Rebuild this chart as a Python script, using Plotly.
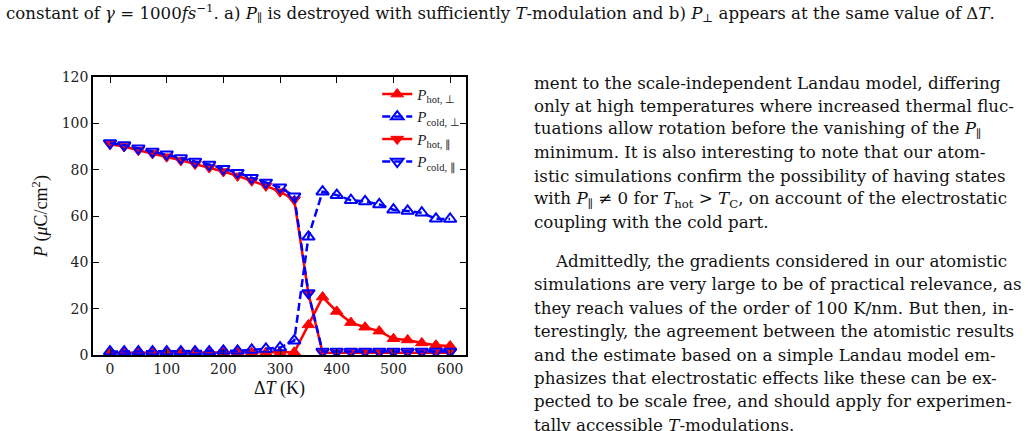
import plotly.graph_objects as go

# ---------------- data ----------------
dT = [0, 25, 50, 75, 100, 125, 150, 175, 200, 225, 250, 275, 300,
      325, 350, 375, 400, 425, 450, 475, 500, 525, 550, 575, 600]

P_hot_perp = [1.0, 1.0, 1.0, 1.0, 1.0, 1.0, 1.0, 1.0, 1.0, 1.0, 1.0, 1.0, 1.0,
              1.2, 13.0, 25.0, 18.8, 14.0, 12.0, 10.3, 7.0, 6.5, 5.2, 4.2, 3.9]
P_cold_perp = [1.5, 1.5, 1.5, 1.5, 1.5, 1.5, 1.5, 1.5, 1.8, 1.8, 2.2, 2.6, 3.2,
               6.2, 51.0, 70.5, 69.0, 66.8, 66.3, 65.0, 62.7, 62.2, 61.4, 58.8, 58.7]
P_hot_par = [91.0, 90.0, 88.4, 87.0, 85.6, 84.0, 82.4, 80.9, 79.2, 77.3, 75.2, 73.0, 70.5,
             67.0, 26.5, 1.0, 1.0, 1.0, 1.0, 1.0, 1.0, 1.0, 1.0, 1.0, 1.0]
P_cold_par = [91.5, 90.6, 89.2, 87.8, 86.7, 85.0, 83.5, 82.2, 80.4, 78.7, 76.5, 74.5, 72.4,
              68.5, 26.8, 1.5, 1.5, 1.5, 1.5, 1.5, 1.5, 1.5, 1.5, 1.5, 1.5]

x_ticks = [0, 100, 200, 300, 400, 500, 600]
y_ticks = [0, 20, 40, 60, 80, 100, 120]

caption = ("constant of <i>γ</i> = 1000<i>fs</i><sup>−1</sup>. a) <i>P</i><sub>∥</sub> is destroyed "
           "with sufficiently <i>T</i>-modulation and b) <i>P</i><sub>⊥</sub> appears at the same value of Δ<i>T</i>.")

para1 = [
    "ment to the scale-independent Landau model, differing",
    "only at high temperatures where increased thermal fluc-",
    "tuations allow rotation before the vanishing of the <i>P</i><sub>∥</sub>",
    "minimum. It is also interesting to note that our atom-",
    "istic simulations confirm the possibility of having states",
    "with <i>P</i><sub>∥</sub> ≠ 0 for <i>T</i><sub>hot</sub> > <i>T</i><sub>C</sub>, on account of the electrostatic",
    "coupling with the cold part.",
]
para2 = [
    "Admittedly, the gradients considered in our atomistic",
    "simulations are very large to be of practical relevance, as",
    "they reach values of the order of 100 K/nm. But then, in-",
    "terestingly, the agreement between the atomistic results",
    "and the estimate based on a simple Landau model em-",
    "phasizes that electrostatic effects like these can be ex-",
    "pected to be scale free, and should apply for experimen-",
    "tally accessible <i>T</i>-modulations.",
]

# ---------------- figure ----------------
W, H = 1028, 431
L, R, T, B = 93, 466, 77, 355   # plot area in pixels

RED = "#ff0000"
BLUE = "#0000ff"
DASH = "8px,4px"
TEXT_FONT = "DejaVu Serif"

fig = go.Figure()
fig.add_trace(go.Scatter(
    x=dT, y=P_hot_perp, mode="lines+markers", name="<i>P</i><sub>hot, ⊥</sub>",
    line=dict(color=RED, width=2.5),
    marker=dict(symbol="triangle-up", size=11, color=RED, line=dict(color=RED, width=1))))
fig.add_trace(go.Scatter(
    x=dT, y=P_cold_perp, mode="lines+markers", name="<i>P</i><sub>cold, ⊥</sub>",
    line=dict(color=BLUE, width=2.5, dash=DASH),
    marker=dict(symbol="triangle-up-open", size=11, color=BLUE, line=dict(color=BLUE, width=2))))
fig.add_trace(go.Scatter(
    x=dT, y=P_hot_par, mode="lines+markers", name="<i>P</i><sub>hot, ∥</sub>",
    line=dict(color=RED, width=2.5),
    marker=dict(symbol="triangle-down", size=11, color=RED, line=dict(color=RED, width=1))))
fig.add_trace(go.Scatter(
    x=dT, y=P_cold_par, mode="lines+markers", name="<i>P</i><sub>cold, ∥</sub>",
    line=dict(color=BLUE, width=2.5, dash=DASH),
    marker=dict(symbol="triangle-down-open", size=11, color=BLUE, line=dict(color=BLUE, width=2))))

axis_common = dict(
    showgrid=False, zeroline=False, showline=True, linecolor="black", linewidth=1.5,
    mirror="ticks", ticks="inside", ticklen=6, tickwidth=1.3, tickcolor="black",
    tickfont=dict(family="DejaVu Serif", size=14, color="#222"),
)
fig.update_xaxes(range=[-30, 628], tickvals=x_ticks,
                 title=dict(text="Δ<i>T</i> (K)", font=dict(family="Liberation Serif", size=18, color="#111"),
                            standoff=6),
                 **axis_common)
fig.update_yaxes(range=[0, 120], tickvals=y_ticks,
                 title=dict(text="<i>P</i> (<i>μ</i>C/cm<sup>2</sup>)",
                            font=dict(family="Liberation Serif", size=18, color="#111"), standoff=9),
                 **axis_common)

fig.update_layout(
    width=W, height=H,
    margin=dict(l=L, r=W - R, t=T, b=H - B, autoexpand=False),
    paper_bgcolor="white", plot_bgcolor="white",
    showlegend=True,
    legend=dict(x=0.762, y=0.997, xanchor="left", yanchor="top",
                bgcolor="rgba(0,0,0,0)", borderwidth=0,
                font=dict(family="Liberation Serif", size=15, color="#222"),
                itemwidth=30, tracegroupgap=0),
)


def px_to_paper(px, py):
    return (px - L) / (R - L), (B - py) / (B - T)


def add_text(px, py, text, size=16.7):
    xp, yp = px_to_paper(px, py)
    fig.add_annotation(x=xp, y=yp, xref="paper", yref="paper", text=text,
                       showarrow=False, xanchor="left", yanchor="middle",
                       font=dict(family=TEXT_FONT, size=size, color="#111"))


add_text(4, 13, caption, size=16.6)
line_y1 = [83, 106, 129, 152, 176, 199, 222]
for yy, s in zip(line_y1, para1):
    add_text(532, yy, s)
line_y2 = [261, 284, 308, 331, 355, 378, 401, 425]
for i, (yy, s) in enumerate(zip(line_y2, para2)):
    add_text(553 if i == 0 else 532, yy, s)

fig.write_html("out.html")
